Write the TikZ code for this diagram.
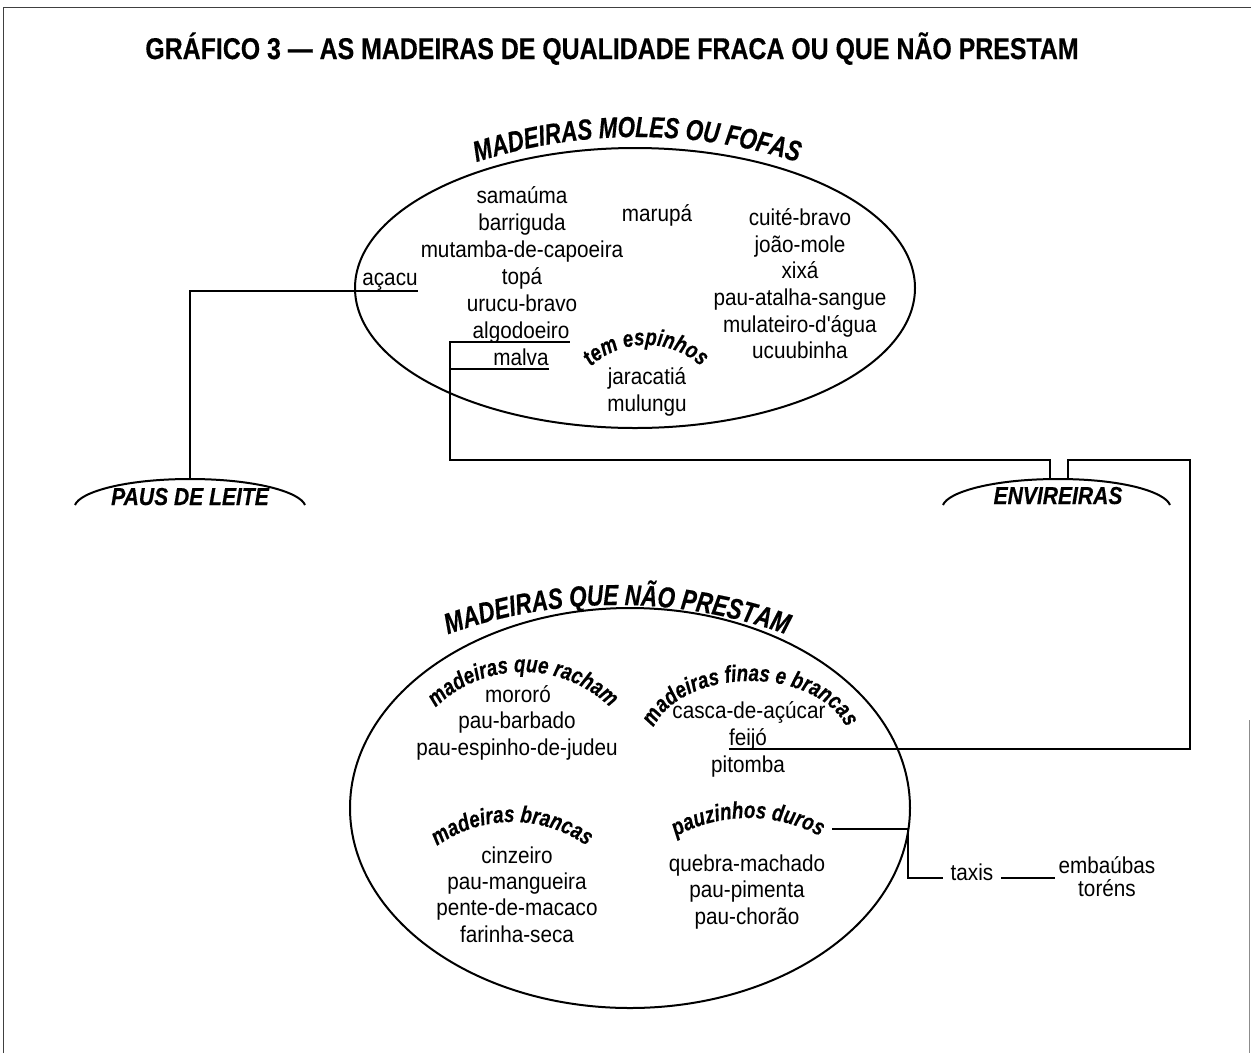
\documentclass[tikz,border=0pt]{standalone}
\usepackage{fontspec}
\setmainfont{Liberation Sans}
\newfontfamily\bodyfont{Liberation Sans}[FakeStretch=0.9]
\newfontfamily\headfont{Liberation Sans}[FakeStretch=0.83, FakeBold=0.4]
\newfontfamily\archfont{Liberation Sans}[FakeStretch=0.77, FakeBold=0.4]
\newfontfamily\subfont{Liberation Sans}[FakeStretch=0.8, FakeBold=0.3]
\newfontfamily\groupfont{Liberation Sans}[FakeStretch=0.86, FakeBold=0.4]
\usetikzlibrary{decorations.text,calc}
\newcommand\capsarc{\archfont\bfseries\itshape\fontsize{29}{32}\selectfont}
\newcommand\lowarc{\subfont\bfseries\itshape\fontsize{23.5}{26}\selectfont}
\tikzset{
  item/.style={font=\bodyfont\fontsize{23}{26}\selectfont, inner sep=0pt, anchor=base},
  group/.style={font=\groupfont\bfseries\itshape\fontsize{24.5}{30}\selectfont, inner sep=0pt, anchor=base},
  wire/.style={line width=2.4pt},
  thinwire/.style={line width=2pt},
  rim/.style={line width=2pt},
  frame/.style={line width=1pt, black!75},
  arclabel/.style={decorate, decoration={text along path, text align=center, text={#1}}}
}
\begin{document}
\begin{tikzpicture}[x=1pt,y=-1pt]
\fill[white] (0,0) rectangle (1251,1053);
\useasboundingbox (0,0) rectangle (1251,1053);

% open frame
\draw[frame] (3,1053) -- (3,7) -- (1251,7);
\draw[frame, black!45] (1249,720) -- (1249,1053);

% heading
\node[font=\headfont\bfseries\fontsize{30}{36}\selectfont, inner sep=0pt, anchor=base] (title) at (612,59)
  {GRÁFICO 3 — AS MADEIRAS DE QUALIDADE FRACA OU QUE NÃO PRESTAM};

% ---------- soft woods ----------
\draw[rim] (635,288) ellipse [x radius=280, y radius=140];
\path[arclabel={|\capsarc|MADEIRAS MOLES OU FOFAS}]
  ($(637,661)+(245:524)$) arc[start angle=245, end angle=295, radius=524];

\node[item] (samauma)  at (522,203) {samaúma};
\node[item] (barrig)   at (522,230) {barriguda};
\node[item] (mutamba)  at (522,257) {mutamba-de-capoeira};
\node[item] (topa)     at (522,284) {topá};
\node[item] (urucu)    at (522,311) {urucu-bravo};
\node[item] (algod)    at (521,338) {algodoeiro};
\node[item] (malva)    at (521,365) {malva};
\node[item] (acacu)    at (390,285) {açacu};
\node[item] (marupa)   at (657,221) {marupá};
\node[item] (cuite)    at (800,225) {cuité-bravo};
\node[item] (joao)     at (800,252) {joão-mole};
\node[item] (xixa)     at (800,278) {xixá};
\node[item] (atalha)   at (800,305) {pau-atalha-sangue};
\node[item] (mulat)    at (800,332) {mulateiro-d'água};
\node[item] (ucuub)    at (800,358) {ucuubinha};

\path[arclabel={|\lowarc|tem espinhos}]
  ($(646,426)+(200:81)$) arc[start angle=200, end angle=340, radius=81];
\node[item] (jarac)    at (647,384) {jaracatiá};
\node[item] (mulungu)  at (647,411) {mulungu};

% ---------- side groups ----------
\draw[rim] (75,505) .. controls (80,492) and (125,479) .. (190,479)
                    .. controls (255,479) and (300,492) .. (305,505);
\node[group] (paus) at (190,505) {PAUS DE LEITE};
\coordinate (pausTop) at (190,479);

\draw[rim] (943,505) .. controls (948,492) and (993,479) .. (1058,479)
                     .. controls (1123,479) and (1165,492) .. (1170,505);
\node[group] (envir) at (1058,504) {ENVIREIRAS};
\coordinate (envL) at (1050,480);
\coordinate (envR) at (1068,480);

% ---------- useless woods ----------
\draw[rim] (630,808) ellipse [x radius=280, y radius=200];
\path[arclabel={|\capsarc|MADEIRAS QUE NÃO PRESTAM}]
  ($(617,1106)+(240:501)$) arc[start angle=240, end angle=300, radius=501];

\path[arclabel={|\lowarc|madeiras que racham}]
  ($(523,797)+(200:125)$) arc[start angle=200, end angle=340, radius=125];
\node[item] (mororo)  at (518,702) {mororó};
\node[item] (pbarb)   at (517,728) {pau-barbado};
\node[item] (pesp)    at (517,755) {pau-espinho-de-judeu};

\path[arclabel={|\lowarc|madeiras finas e brancas}]
  ($(750,745)+(180:100 and 64)$) arc[start angle=180, end angle=360, x radius=100, y radius=64];
\node[item] (casca)   at (749,718) {casca-de-açúcar};
\node[item] (feijo)   at (748,745) {feijó};
\node[item] (pitomba) at (748,772) {pitomba};

\path[arclabel={|\lowarc|madeiras brancas}]
  ($(512,951)+(220:129)$) arc[start angle=220, end angle=320, radius=129];
\node[item] (cinz)    at (517,863) {cinzeiro};
\node[item] (pmang)   at (517,889) {pau-mangueira};
\node[item] (pente)   at (517,915) {pente-de-macaco};
\node[item] (farinha) at (517,942) {farinha-seca};

\path[arclabel={|\lowarc|pauzinhos duros}]
  ($(748,968)+(225:150)$) arc[start angle=225, end angle=315, radius=150];
\coordinate (pzEnd) at (832,829);
\node[item] (quebra)  at (747,871) {quebra-machado};
\node[item] (ppim)    at (747,897) {pau-pimenta};
\node[item] (pchor)   at (747,924) {pau-chorão};

\node[item, inner xsep=8pt] (taxis) at (972,880) {taxis};
\node[item, inner xsep=3pt] (emb)   at (1107,873) {embaúbas};
\node[item] (toren) at (1107,896) {toréns};
\coordinate (tkink) at (908,878);

% ---------- connectors ----------
\draw[wire] ($(acacu.base east)+(0,6)$) -| (pausTop);

\coordinate (ag) at ($(algod.base east)+(0,4)$);
\coordinate (mv) at ($(malva.base east)+(0,4)$);
\coordinate (bendL) at (450,460);
\draw[wire] (ag) -| (bendL) -| (envL);
\draw[wire] (mv) -- (mv -| bendL);

\coordinate (fj) at ($(feijo.base west)+(0,4)$);
\coordinate (bendR) at (1190,460);
\draw[wire] (fj) -| (bendR) -| (envR);

\draw[wire] (pzEnd) -| (tkink) -- (tkink -| taxis.west);
\draw[thinwire] (tkink -| taxis.east) -- (tkink -| emb.west);
\end{tikzpicture}
\end{document}
